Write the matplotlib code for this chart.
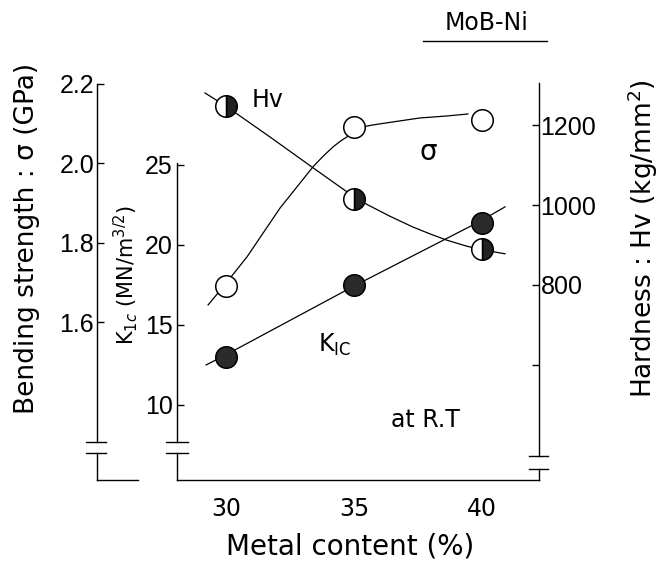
import numpy as np
import matplotlib
matplotlib.use("Agg")
import matplotlib.pyplot as plt
from matplotlib.lines import Line2D

plt.rcParams['font.family'] = ['DejaVu Sans']
plt.rcParams['mathtext.fontset'] = 'dejavusans'

# measured data
metal = [30, 35, 40]
sigma = [1.69, 2.09, 2.11]        # GPa
hv = [1248, 1015, 890]            # kg/mm2
k1c = [13.0, 17.5, 21.4]          # MN/m^3/2

# hand drawn fit curves
sigma_cx = [29.30, 29.88, 30.82, 32.11, 33.40, 33.80, 34.18, 34.50, 34.84, 35.16, 35.70, 36.52, 37.58, 38.63, 39.45]
sigma_cy = [1.643, 1.688, 1.764, 1.887, 1.991, 2.018, 2.041, 2.057, 2.071, 2.089, 2.096, 2.104, 2.114, 2.119, 2.124]
hv_cx = [29.18, 30.0, 31.72, 33.40, 35.12, 35.55, 36.40, 37.30, 38.00, 38.63, 39.41, 39.92, 40.90]
hv_cy = [1280, 1247, 1170, 1093, 1015, 1000, 972, 945, 927, 912, 897, 889, 878]
k_cx = [29.22, 29.84, 35.08, 39.88, 40.90]
k_cy = [12.5, 13.0, 17.5, 21.44, 22.38]

W, H = 665, 566
fig = plt.figure(figsize=(W / 100, H / 100), dpi=100)
L, R, B, T = 177, 539, 480, 60   # axes box in pixels (from top)
ax = fig.add_axes([L / W, (H - B) / H, (R - L) / W, (B - T) / H])
aw, ah = R - L, B - T

def fx(px):
    return (px - L) / aw

def fy(py):
    return (B - py) / ah

fs = 17
lfs = 19
tfs = 18
tick_font = 'Liberation Sans'
lw = 1.0

ax.set_xlim(28.086, 42.227)
ax.set_ylim(5.31, 31.56)
ax.spines['top'].set_visible(False)
ax.spines['right'].set_visible(False)
ax.spines['left'].set_bounds(7.69, 25.1)
for s in ax.spines.values():
    s.set_linewidth(lw)
ax.set_xticks(metal)
ax.set_xticklabels(['30', '35', '40'])
ax.tick_params(axis='x', length=0, pad=12, labelsize=fs)
ax.set_yticks([10, 15, 20, 25])
ax.set_yticklabels(['10', '15', '20', '25'], family=tick_font)
ax.tick_params(axis='y', direction='in', length=5, width=lw, pad=3, labelsize=tfs)

# bending strength axis (far left)
ax_s = ax.twinx()
ax_s.set_ylim(1.202, 2.260)
for k in ['top', 'bottom', 'right']:
    ax_s.spines[k].set_visible(False)
ax_s.spines['left'].set_visible(True)
ax_s.spines['left'].set_position(('axes', fx(97)))
ax_s.spines['left'].set_bounds(1.298, 2.2)
ax_s.spines['left'].set_linewidth(lw)
ax_s.yaxis.set_ticks_position('left')
ax_s.yaxis.set_label_position('left')
ax_s.set_yticks([1.6, 1.8, 2.0, 2.2])
ax_s.set_yticklabels(['1.6', '1.8', '2.0', '2.2'], family=tick_font)
ax_s.tick_params(axis='y', direction='in', length=5, width=lw, pad=2, labelsize=tfs)

# hardness axis (right)
ax_h = ax.twinx()
ax_h.set_ylim(312.5, 1362.5)
for k in ['top', 'bottom', 'left']:
    ax_h.spines[k].set_visible(False)
ax_h.spines['right'].set_bounds(372.5, 1305)
ax_h.spines['right'].set_linewidth(lw)
ax_h.set_yticks([600, 800, 1000, 1200])
ax_h.set_yticklabels(['', '800', '1000', '1200'], family=tick_font)
ax_h.tick_params(axis='y', direction='in', length=5, width=lw, pad=1, labelsize=tfs)

# axis break marks
def brk(xc, x0, x1, ycap, yt):
    kw = dict(transform=ax.transAxes, clip_on=False, color='black', lw=lw)
    ax.plot([fx(x0), fx(x1)], [fy(ycap), fy(ycap)], **kw)
    ax.plot([fx(x0), fx(x1)], [fy(yt), fy(yt)], **kw)
    ax.plot([fx(xc), fx(xc)], [fy(yt), fy(B)], **kw)

brk(97, 86, 106, 442, 453)
brk(177, 166, 188, 442, 453)
brk(539, 529, 548, 456, 469)
ax.plot([fx(97), fx(138)], [0, 0], transform=ax.transAxes, clip_on=False, color='black', lw=lw)

ms = 15.5
mew = 1.1
ax.plot(k_cx, k_cy, color='black', lw=0.9)
ax.plot(metal, k1c, 'o', ms=ms, mfc='#2b2b2b', mec='black', mew=mew)
ax_s.plot(sigma_cx, sigma_cy, color='black', lw=0.9)
ax_s.plot(metal, sigma, 'o', ms=ms, mfc='white', mec='black', mew=mew)
ax_h.plot(hv_cx, hv_cy, color='black', lw=0.9)
ax_h.plot(metal, hv, 'o', ms=ms, fillstyle='right', mfc='#222222',
          markerfacecoloralt='white', mec='black', mew=mew)

# labels
ax.text(fx(27), fy(238), 'Bending strength : σ (GPa)', rotation=90, ha='center', va='center',
        transform=ax.transAxes, fontsize=lfs)
ax.text(fx(126), fy(275), r'K$_{1c}$ (MN/m$^{3/2}$)', rotation=90, ha='center', va='center',
        transform=ax.transAxes, fontsize=15)
ax.text(fx(643), fy(239), r'Hardness : Hv (kg/mm$^{2}$)', rotation=90, ha='center', va='center',
        transform=ax.transAxes, fontsize=lfs)
ax.text(fx(350), fy(547), 'Metal content (%)', ha='center', va='center',
        transform=ax.transAxes, fontsize=lfs + 1)
ax.text(fx(268), fy(100), 'Hv', ha='center', va='center', transform=ax.transAxes, fontsize=fs)
ax.text(fx(428), fy(152), 'σ', ha='center', va='center', transform=ax.transAxes, fontsize=fs + 3)
ax.text(fx(335), fy(345), r'K$_{\mathrm{IC}}$', ha='center', va='center', transform=ax.transAxes, fontsize=fs)
ax.text(fx(425), fy(420), 'at R.T', ha='center', va='center', transform=ax.transAxes, fontsize=fs)
fig.text(487 / W, 1 - 23 / H, 'MoB-Ni', ha='center', va='center', fontsize=fs)
fig.add_artist(Line2D([423 / W, 547 / W], [1 - 41 / H, 1 - 41 / H], color='black', lw=lw))

fig.savefig('out.png', dpi=100)
